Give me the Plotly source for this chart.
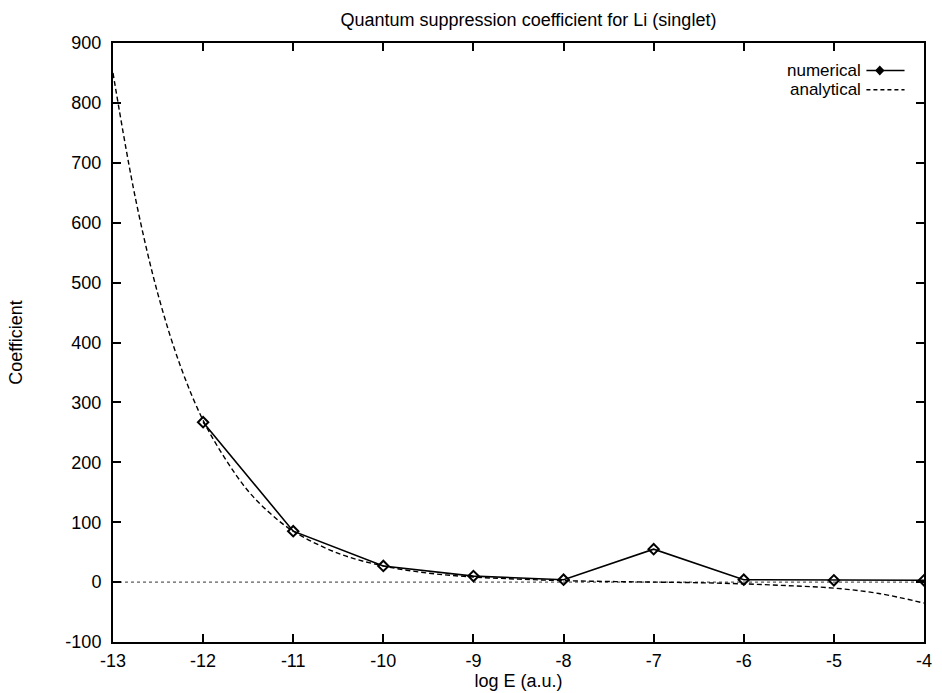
import plotly.graph_objects as go

# numerical data
num_x = [-12, -11, -10, -9, -8, -7, -6, -5, -4]
num_y = [267, 85, 27, 10, 4, 55, 4, 3, 3]

# analytical curve
ana_x = [-13, -12.75, -12.5, -12.25, -12, -11.75, -11.5, -11.25, -11, -10.5, -10,
         -9.5, -9, -8.5, -8, -7.5, -7, -6.5, -6, -5.5, -5, -4.5, -4]
ana_y = [850, 640, 480, 360, 270, 205, 152, 114, 85, 48, 27,
         15, 8.5, 5, 2.5, 1, 0, -1, -3, -6, -10, -19, -35]

# zero axis
zero_x = [-13, -4]
zero_y = [0, 0]

x_ticks = [-13, -12, -11, -10, -9, -8, -7, -6, -5, -4]
y_ticks = [-100, 0, 100, 200, 300, 400, 500, 600, 700, 800, 900]

FONT = "Liberation Sans, Arial, Helvetica, sans-serif"
FS = 18
LFS = 17

fig = go.Figure()
fig.add_trace(go.Scatter(x=zero_x, y=zero_y, mode="lines",
                         line=dict(color="#333", width=1, dash="dot"),
                         showlegend=False, hoverinfo="skip"))
fig.add_trace(go.Scatter(x=ana_x, y=ana_y, mode="lines", name="analytical",
                         line=dict(color="black", width=1.4, dash="5px,3px", shape="spline"),
                         showlegend=False))
fig.add_trace(go.Scatter(x=num_x, y=num_y, mode="lines+markers", name="numerical",
                         line=dict(color="black", width=1.6),
                         marker=dict(symbol="diamond-open", size=8, color="black",
                                     line=dict(color="black", width=2)),
                         showlegend=False))

# manual legend (text left of sample, as in gnuplot)
tx = 0.924
sx0, sx1 = 0.929, 0.976
ly1, ly2 = 0.954, 0.922
annotations = [
    dict(x=tx, y=ly1, xref="paper", yref="paper", text="numerical", showarrow=False,
         xanchor="right", yanchor="middle", borderpad=0,
         font=dict(family=FONT, size=LFS, color="black")),
    dict(x=tx, y=ly2, xref="paper", yref="paper", text="analytical", showarrow=False,
         xanchor="right", yanchor="middle", borderpad=0,
         font=dict(family=FONT, size=LFS, color="black")),
]
shapes = [
    dict(type="line", xref="paper", yref="paper", x0=sx0, x1=sx1, y0=ly1, y1=ly1,
         line=dict(color="black", width=1.6)),
    dict(type="line", xref="paper", yref="paper", x0=sx0, x1=sx1, y0=ly2, y1=ly2,
         line=dict(color="black", width=1.4, dash="4px,3px")),
]
# diamond in legend
cx, cy = (sx0 + sx1) / 2 - 0.007, ly1
dx, dy = 0.0045, 0.0065
shapes.append(dict(type="path", xref="paper", yref="paper",
                   path=f"M {cx-dx},{cy} L {cx},{cy+dy} L {cx+dx},{cy} L {cx},{cy-dy} Z",
                   fillcolor="black", line=dict(color="black", width=1.5)))

fig.update_layout(
    width=942, height=693,
    margin=dict(l=113, r=10, t=43, b=51),
    paper_bgcolor="white", plot_bgcolor="white",
    title=dict(text="Quantum suppression coefficient for Li (singlet)", x=0.561, xanchor="center",
               y=0.971, yanchor="middle", font=dict(family=FONT, size=FS, color="black")),
    font=dict(family=FONT, size=FS, color="black"),
    annotations=annotations, shapes=shapes,
    showlegend=False,
)
fig.update_xaxes(range=[-13, -4], tickvals=x_ticks, ticktext=[str(v) for v in x_ticks],
                 ticks="inside", ticklen=8, tickwidth=1.5, tickcolor="black",
                 showline=True, linecolor="black", linewidth=2, mirror="allticks",
                 showgrid=False, zeroline=False, ticklabelstandoff=1,
                 title=dict(text="log E (a.u.)", standoff=0, font=dict(family=FONT, size=FS)),
                 tickfont=dict(family=FONT, size=FS))
fig.update_yaxes(range=[-100, 900], tickvals=y_ticks, ticktext=[str(v) for v in y_ticks],
                 ticks="inside", ticklen=8, tickwidth=1.5, tickcolor="black",
                 showline=True, linecolor="black", linewidth=2, mirror="allticks",
                 showgrid=False, zeroline=False, ticklabelstandoff=6,
                 title=dict(text="Coefficient", standoff=38, font=dict(family=FONT, size=FS)),
                 tickfont=dict(family=FONT, size=FS))

fig.write_html("out.html")
